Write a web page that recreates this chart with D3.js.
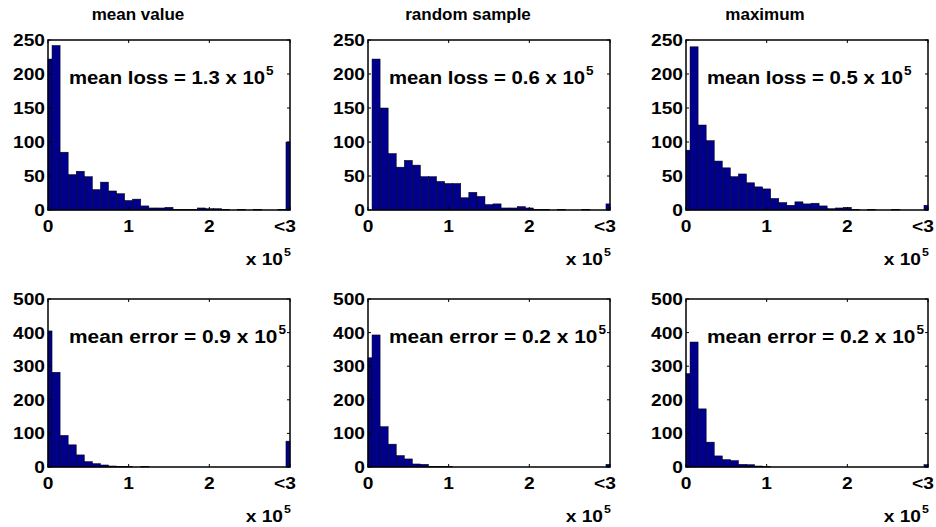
<!DOCTYPE html>
<html>
<head>
<meta charset="utf-8">
<script src="https://cdn.jsdelivr.net/npm/d3@7/dist/d3.min.js"></script>
<style>
  html, body { margin: 0; padding: 0; background: #fff; }
  svg { display: block; }
  text { font-family: "Liberation Sans", Arial, Helvetica, sans-serif; font-weight: bold; fill: #000; }
</style>
</head>
<body>
<svg id="chart" width="936" height="527"></svg>
<script>
// Histogram bin centres (x 10^5); the last bin collects everything from 3 upward.
const binCenters = d3.range(31).map(k => k / 10);

// Loss histograms (counts per bin)
const lossMeanValue    = [222,242,85,52,57,49,30,41,28,24,14,16,6,3,3,4,1,1,1,3,2,2,1,0,1,0,1,0,0,1,100];
const lossRandomSample = [0,222,150,83,63,73,66,49,49,42,39,39,18,26,20,8,9,3,3,5,3,1,1,0,1,0,0,1,0,0,9];
const lossMaximum      = [88,240,125,102,72,62,49,53,40,34,31,17,11,7,12,9,10,6,2,3,4,1,0,1,0,0,1,0,0,0,7];

// Error histograms (counts per bin)
const errMeanValue     = [405,282,94,66,36,16,10,6,3,2,1,0,1,0,0,0,0,0,0,0,0,0,0,0,0,0,0,0,0,0,77];
const errRandomSample  = [325,393,120,68,34,24,9,8,2,1,1,0,0,0,0,0,0,0,0,0,0,0,0,0,0,0,0,0,0,0,8];
const errMaximum       = [278,372,173,74,33,22,19,8,7,3,1,0,0,0,0,0,0,0,0,0,0,0,0,0,0,0,0,0,0,0,7];

const columnTitles = ["mean value", "random sample", "maximum"];
const lossMeans = ["1.3", "0.6", "0.5"];
const errorMeans = ["0.9", "0.2", "0.2"];

const xTickValues = [0, 1, 2, 3];
const xTickLabels = ["0", "1", "2", "<3"];
const lossYTicks = [0, 50, 100, 150, 200, 250];
const errorYTicks = [0, 100, 200, 300, 400, 500];

// Layout
const colLeft = [48, 368, 686];
const titleX = [138, 468, 765];
const plotW = 242;
const rows = [
  { top: 40, height: 170, yMax: 250, ticks: lossYTicks, series: [lossMeanValue, lossRandomSample, lossMaximum],
    label: i => "mean loss = " + lossMeans[i] + " x 10" },
  { top: 299, height: 168, yMax: 500, ticks: errorYTicks, series: [errMeanValue, errRandomSample, errMaximum],
    label: i => "mean error = " + errorMeans[i] + " x 10" }
];

const SX = 1.13;          // horizontal stretch of the bold lettering
const FS = 17;            // tick font size
const barFill = "rgb(0,0,140)";

const svg = d3.select("#chart");

function stretchedText(g, x, y, str, size, anchor, sx = SX) {
  return g.append("text")
    .attr("transform", `translate(${x},${y}) scale(${sx},1)`)
    .attr("text-anchor", anchor)
    .style("font-size", size + "px")
    .text(str);
}

// Column titles
columnTitles.forEach((t, i) => {
  stretchedText(svg, titleX[i], 20, t, 17, "middle", 1.0);
});

rows.forEach((row, r) => {
  row.series.forEach((counts, c) => {
    const left = colLeft[c];
    const x = d3.scaleLinear().domain([0, 3]).range([left, left + plotW]).clamp(true);
    const y = d3.scaleLinear().domain([0, row.yMax]).range([row.top + row.height, row.top]);
    const g = svg.append("g");

    // Bars: each bin spans centre +/- 0.05, clipped to the axis range
    g.selectAll("rect.bar")
      .data(binCenters.map((b, k) => ({ b, v: counts[k] })))
      .join("rect")
      .attr("class", "bar")
      .attr("x", d => x(d.b - 0.05))
      .attr("width", d => Math.max(0, x(d.b + 0.05) - x(d.b - 0.05)))
      .attr("y", d => y(d.v))
      .attr("height", d => y(0) - y(d.v))
      .attr("fill", barFill)
      .attr("stroke", "#000")
      .attr("stroke-width", 0.5);

    // Axis box
    g.append("rect")
      .attr("x", left).attr("y", row.top)
      .attr("width", plotW).attr("height", row.height)
      .attr("fill", "none").attr("stroke", "#000").attr("stroke-width", 1.5);

    const tl = 3;
    // Inward ticks on all four sides
    xTickValues.forEach(v => {
      const px = x(v);
      g.append("line").attr("x1", px).attr("x2", px)
        .attr("y1", row.top + row.height).attr("y2", row.top + row.height - tl)
        .attr("stroke", "#000");
      g.append("line").attr("x1", px).attr("x2", px)
        .attr("y1", row.top).attr("y2", row.top + tl)
        .attr("stroke", "#000");
    });
    row.ticks.forEach(v => {
      const py = y(v);
      g.append("line").attr("x1", left).attr("x2", left + tl)
        .attr("y1", py).attr("y2", py).attr("stroke", "#000");
      g.append("line").attr("x1", left + plotW).attr("x2", left + plotW - tl)
        .attr("y1", py).attr("y2", py).attr("stroke", "#000");
    });

    // Y tick labels
    row.ticks.forEach(v => {
      stretchedText(g, left - 3, y(v) + 6, String(v), FS, "end");
    });

    // X tick labels
    xTickValues.forEach((v, i) => {
      const px = v === 3 ? x(v) - 5 : x(v);
      stretchedText(g, px, row.top + row.height + 22, xTickLabels[i], FS, "middle");
    });

    // Exponent label under the axis
    const ex = left + plotW - 7;
    const ey = row.top + row.height + 55;
    stretchedText(g, ex, ey, "x 10", FS, "end");
    stretchedText(g, ex + 1, ey - 9, "5", 11, "start");

    // Annotation with mean
    const ax = left + 21;
    const ay = row.top + 44;
    const t = stretchedText(g, ax, ay, row.label(c), r === 0 ? 18 : 18.5, "start");
    const w = t.node().getComputedTextLength() * SX;
    stretchedText(g, ax + w + 1, ay - 9, "5", 12, "start");
  });
});
</script>
</body>
</html>
